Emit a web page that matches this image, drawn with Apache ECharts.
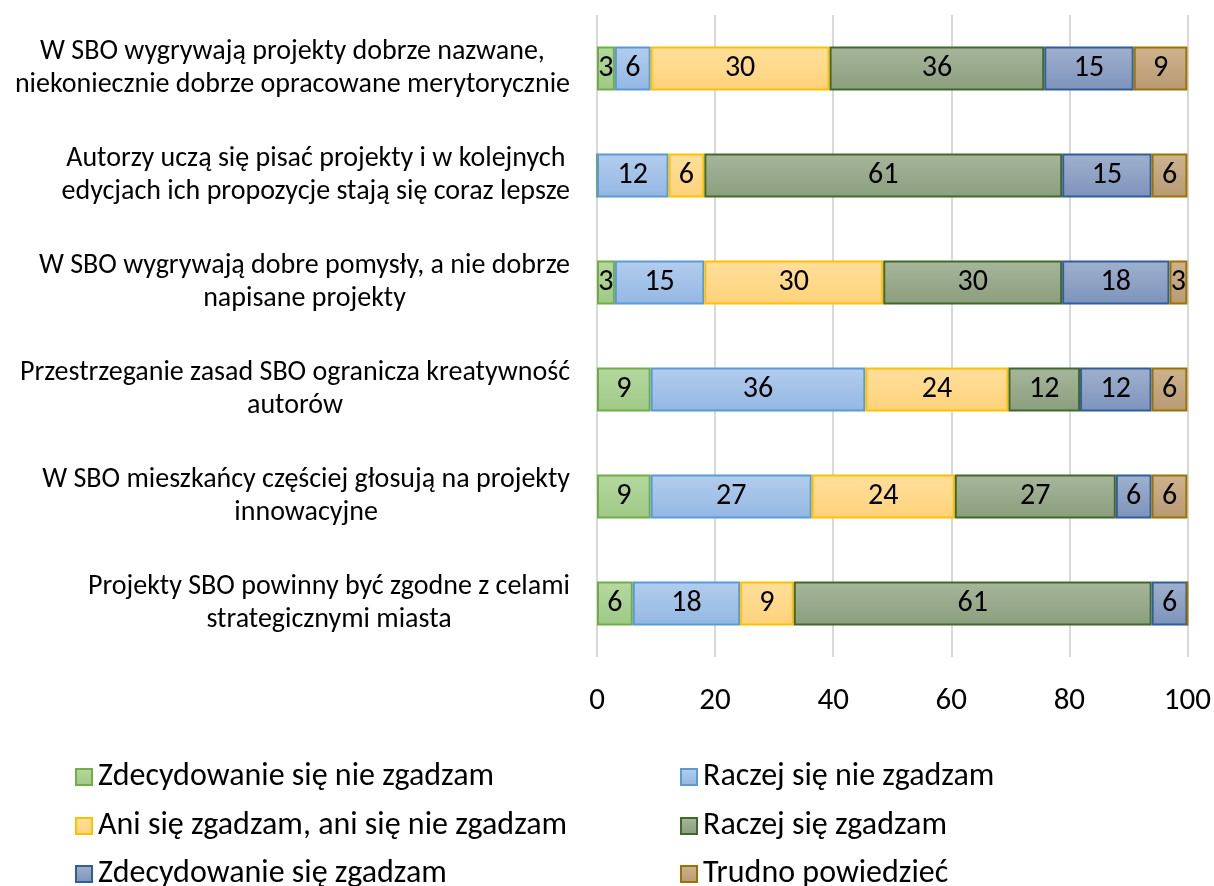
<!DOCTYPE html>
<html>
<head>
<meta charset="utf-8">
<script src="https://cdn.jsdelivr.net/npm/echarts@6/dist/echarts.min.js"></script>
<style>
  html, body { margin: 0; padding: 0; background: #fff; }
  #chart { width: 1214px; height: 886px; }
</style>
</head>
<body>
<div id="chart"></div>
<script>
// statements, top to bottom
const categories = [
  'W SBO wygrywają projekty dobrze nazwane,\nniekoniecznie dobrze opracowane merytorycznie',
  'Autorzy uczą się pisać projekty i w kolejnych\nedycjach ich propozycje stają się coraz lepsze',
  'W SBO wygrywają dobre pomysły, a nie dobrze\nnapisane projekty',
  'Przestrzeganie zasad SBO ogranicza kreatywność\nautorów',
  'W SBO mieszkańcy częściej głosują na projekty\ninnowacyjne',
  'Projekty SBO powinny być zgodne z celami\nstrategicznymi miasta'
]
const seriesNames = [
  'Zdecydowanie się nie zgadzam',
  'Raczej się nie zgadzam',
  'Ani się zgadzam, ani się nie zgadzam',
  'Raczej się zgadzam',
  'Zdecydowanie się zgadzam',
  'Trudno powiedzieć'
]
// percentages (labels are rounded)
const zdecNie = [3.03, 0, 3.03, 9.09, 9.09, 6.06]
const raczejNie = [6.06, 12.12, 15.15, 36.36, 27.27, 18.18]
const ani = [30.30, 6.06, 30.30, 24.24, 24.24, 9.09]
const raczejTak = [36.36, 60.61, 30.30, 12.12, 27.27, 60.61]
const zdecTak = [15.15, 15.15, 18.18, 12.12, 6.06, 6.06]
const trudno = [9.09, 6.06, 3.03, 6.06, 6.06, 0]
const xTicks = [0, 20, 40, 60, 80, 100]

const values = [zdecNie, raczejNie, ani, raczejTak, zdecTak, trudno]
const fills = [
  ['#b5d8a0', '#9fc986'],
  ['#b3cdee', '#93b7e2'],
  ['#ffdf9c', '#ffd27a'],
  ['#a7b69c', '#8a9e7c'],
  ['#a0b1ce', '#7d93bb'],
  ['#cdb38f', '#b89a72']
]
const borders = ['#70ad47', '#5b9bd5', '#ffc000', '#43682b', '#2e5f98', '#9c7300']
const font = 'Calibri, Carlito, "Noto Sans", sans-serif'

const myChart = echarts.init(document.getElementById('chart'))

const series = seriesNames.map(function (name, i) {
  return {
    name: name,
    type: 'bar',
    stack: 'total',
    barWidth: 44,
    data: values[i],
    itemStyle: {
      color: new echarts.graphic.LinearGradient(0, 0, 0, 1, [
        { offset: 0, color: fills[i][0] },
        { offset: 1, color: fills[i][1] }
      ]),
      borderColor: borders[i],
      borderWidth: 2
    },
    label: {
      show: true,
      position: 'inside',
      color: '#000',
      fontFamily: font,
      fontSize: 30,
      formatter: function (p) {
        return p.value > 0 ? Math.round(p.value) : ''
      }
    },
    emphasis: { disabled: true }
  }
})

// one legend per entry, laid out as the two-column grid of the original
const legendCols = [70, 675]
const legendRows = [756, 805, 853]
const legends = seriesNames.map(function (name, i) {
  return {
    left: legendCols[i % 2],
    top: legendRows[Math.floor(i / 2)],
    itemWidth: 16,
    itemHeight: 16,
    itemGap: 6,
    icon: 'rect',
    data: [name],
    textStyle: { color: '#000', fontFamily: font, fontSize: 32, lineHeight: 32, padding: [0, 0, 0, 1] }
  }
})

const option = {
  animation: false,
  textStyle: { fontFamily: font },
  grid: { left: 597, right: 26, top: 15, bottom: 229, containLabel: false },
  legend: legends,
  xAxis: {
    type: 'value',
    min: xTicks[0],
    max: xTicks[xTicks.length - 1],
    interval: 20,
    axisLine: { show: false },
    axisTick: { show: false },
    splitLine: { lineStyle: { color: '#d9d9d9', width: 2 } },
    axisLabel: { color: '#000', fontSize: 31, fontFamily: font, margin: 29 }
  },
  yAxis: {
    type: 'category',
    inverse: true,
    data: categories,
    axisLine: { show: false },
    axisTick: { show: false },
    axisLabel: {
      margin: 27,
      lineHeight: 33,
      formatter: function (v) {
        return v.split('\n').map(function (l) { return '{c|' + l + '}' }).join('\n')
      },
      rich: {
        c: { align: 'center', color: '#000', fontSize: 28, fontFamily: font, lineHeight: 33 }
      }
    }
  },
  series: series
}

myChart.setOption(option)
</script>
</body>
</html>
